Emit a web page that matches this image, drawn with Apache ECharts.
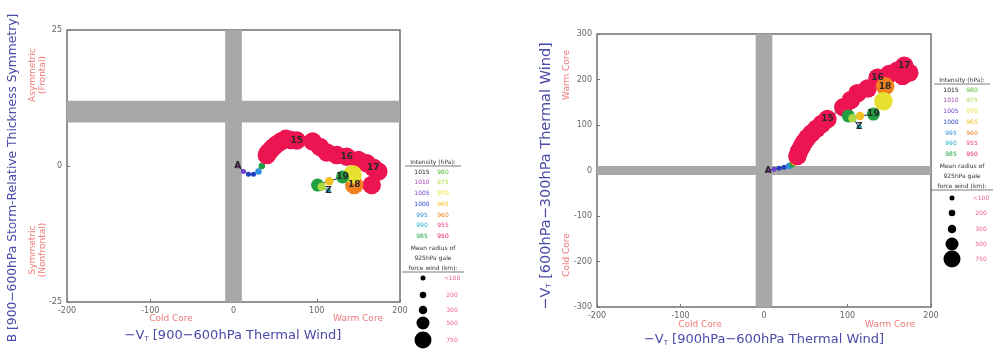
<!DOCTYPE html>
<html><head><meta charset="utf-8">
<script src="https://cdn.jsdelivr.net/npm/echarts@6/dist/echarts.min.js"></script>
<style>html,body{margin:0;padding:0;background:#fff}#c{width:1001px;height:353px}</style>
</head><body><div id="c"></div>
<script>
// ---- data ----
const vtl  = [5,12,18,24,30, 34,37,38,40,42, 45,48,52,57,63, 69,76,95,104,112, 124,136,150,160,168, 174,166,145,143,131, 115,101,106,114];
const bSym = [0,-1,-1.5,-1.5,-1, 0,1.5,2.5,2,2.5, 3,3.5,4,4.5,5, 4.8,4.7,4.5,3.5,2.5, 2,1.7,1.1,0.5,-0.3, -1,-3.5,-3.5,-1.5,-2, -2.8,-3.5,-3.8,-4.5];
const vtu  = [0,3,5,7,10, 14,20,26,32,42, 52,62,72,82,92, 102,113,139,155,170, 180,204,212,220,230, 215,208,185,152,124, 120,120,115,96];
const pres = [1010,1005,1000,1000,995, 985,965,960,950,950, 950,950,950,950,950, 950,950,950,950,950, 950,950,950,950,950, 950,950,960,970,985, 965,985,975,990];
const rad  = [100,100,100,100,200, 200,300,500,750,750, 750,750,750,750,750, 750,750,750,750,750, 750,750,750,750,750, 750,750,750,750,500, 300,500,300,100];
const marks = ['A','','','','', '','','','','', '','','','','', '','15','','','', '','16','','','17', '','','18','','19', '','','','Z'];

const xTicks = [-200,-100,0,100,200];
const bTicks = [-25,0,25];
const uTicks = [-300,-200,-100,0,100,200,300];
const coreBand = [-10,10];
const bBand = [8,12];

const pLevels = [1015,1010,1005,1000,995,990,985,980,975,970,965,960,955,950];
const pColors = ['#222222','#a040b0','#7040d0','#2040c0','#3090e0','#20b0c0','#20a040','#50b830','#b0d840','#e8e030','#f0c020','#f08020','#f04070','#ec1552'];
const rLabels = ['<100','200','300','500','750'];
const rValues = [100,200,300,500,750];
const rSizes  = [5,6.5,8.5,13,18.5];

function colorFor(p){ let best=0; for(let i=0;i<pLevels.length;i++){ if(Math.abs(pLevels[i]-p)<Math.abs(pLevels[best]-p)) best=i; } return pColors[best]; }
function sizeFor(r){ let best=0; for(let i=0;i<rValues.length;i++){ if(Math.abs(rValues[i]-r)<Math.abs(rValues[best]-r)) best=i; } return rSizes[best]; }

const FONT = 'DejaVu Sans';
const chart = echarts.init(document.getElementById('c'));

function axisCommon(min,max,interval,ticks){
  return { min, max, interval, axisLine:{show:false, onZero:false}, axisTick:{show:true, inside:true, length:3, lineStyle:{color:'#777'}},
    splitLine:{show:false}, axisLabel:{fontSize:8, color:'#666', fontFamily:FONT, margin:5,
      formatter: v => ticks.indexOf(v)>=0 ? String(v) : ''} };
}

function trackSeries(gi, yArr, yBand){
  const pts = vtl.map((x,i)=>[x,yArr[i]]);
  return [
    { type:'line', xAxisIndex:gi, yAxisIndex:gi, data:[], z:0, silent:true,
      markArea:{ silent:true, itemStyle:{color:'#a8a8a8', opacity:1},
        data:[ [{xAxis:coreBand[0]},{xAxis:coreBand[1]}], [{yAxis:yBand[0]},{yAxis:yBand[1]}] ] } },
    { type:'line', xAxisIndex:gi, yAxisIndex:gi, data:pts, z:2, symbol:'none', silent:true,
      lineStyle:{color:'#1a1a50', width:1} },
    { type:'scatter', xAxisIndex:gi, yAxisIndex:gi, data:pts, z:3, silent:true,
      symbolSize:(v,p)=>sizeFor(rad[p.dataIndex]),
      itemStyle:{ color:p=>colorFor(pres[p.dataIndex]), opacity:1 },
      label:{ show:true, position:'inside', formatter:p=>marks[p.dataIndex], color:'#2a2a2a', fontSize:9, fontWeight:'bold', fontFamily:FONT } }
  ];
}

const g = [];
function txt(x,y,text,opt){ g.push(Object.assign({type:'text', x, y, style:Object.assign({text, align:'center', verticalAlign:'middle', fontFamily:FONT}, opt.style||{}), rotation:opt.rotation||0})); }
function vtitle(x,y,text,size,color){ txt(x,y,text,{rotation:Math.PI/2, style:{fontSize:size, fill:color}}); }
function vtTitle(x,y,rest,size,rot){
  g.push({type:'text', x, y, rotation:rot||0, style:{text:'{a|−V}{s|T}{a| '+rest+'}', align:'center', verticalAlign:'middle',
    rich:{a:{fontSize:size, fill:'#4a4aa8', fontFamily:FONT}, s:{fontSize:7, fill:'#4a4aa8', fontFamily:FONT, padding:[6,0,0,0]}}}});
}

// left panel texts
vtTitle(233,336,'[900−600hPa Thermal Wind]',13);
txt(171,319,'Cold Core',{style:{fontSize:9, fill:'#f07878'}});
txt(358,319,'Warm Core',{style:{fontSize:9, fill:'#f07878'}});
vtitle(13,178,'B [900−600hPa Storm-Relative Thickness Symmetry]',12.3,'#4a4aa8');
vtitle(33,75,'Asymmetric',9,'#f07878');
vtitle(43,75,'(Frontal)',9,'#f07878');
vtitle(33,250,'Symmetric',9,'#f07878');
vtitle(43,250,'(Nonfrontal)',9,'#f07878');

// right panel texts
vtTitle(764,340,'[900hPa−600hPa Thermal Wind]',13);
txt(700,325,'Cold Core',{style:{fontSize:9, fill:'#f07878'}});
txt(890,325,'Warm Core',{style:{fontSize:9, fill:'#f07878'}});
vtTitle(546,176,'[600hPa−300hPa Thermal Wind]',14.5,Math.PI/2);
vtitle(567,75,'Warm Core',9,'#f07878');
vtitle(567,255,'Cold Core',9,'#f07878');

// legends
function legend(cx, y0, circ){
  txt(cx, y0, 'Intensity (hPa):', {style:{fontSize:6, fill:'#333'}});
  g.push({type:'line', shape:{x1:cx-28,y1:y0+4,x2:cx+28,y2:y0+4}, style:{stroke:'#444', lineWidth:0.7}});
  for(let i=0;i<7;i++){
    txt(cx-11, y0+10+i*10.75, String(pLevels[i]), {style:{fontSize:6, fill:pColors[i]}});
    txt(cx+10, y0+10+i*10.75, String(pLevels[i+7]), {style:{fontSize:6, fill:pColors[i+7]}});
  }
  txt(cx, y0+86, 'Mean radius of', {style:{fontSize:6, fill:'#333'}});
  txt(cx, y0+96, '925hPa gale', {style:{fontSize:6, fill:'#333'}});
  txt(cx, y0+106, 'force wind (km):', {style:{fontSize:6, fill:'#333'}});
  g.push({type:'line', shape:{x1:cx-31,y1:y0+110,x2:cx+31,y2:y0+110}, style:{stroke:'#444', lineWidth:0.7}});
  for(let i=0;i<5;i++){
    g.push({type:'circle', shape:{cx:cx-10, cy:y0+circ[i], r:Math.min(rSizes[i],17)/2}, style:{fill:'#000'}});
    txt(cx+19, y0+circ[i], rLabels[i], {style:{fontSize:6, fill:'#f06090'}});
  }
}
legend(433, 162, [116,133,148,161,178]);
legend(962, 80, [118,133,149,164,179]);

const option = {
  animation:false,
  backgroundColor:'#fff',
  grid:[
    {left:67, top:30, width:333, height:272, show:true, borderColor:'#707070', borderWidth:1.5, backgroundColor:'transparent'},
    {left:597, top:34, width:334, height:273, show:true, borderColor:'#707070', borderWidth:1.5, backgroundColor:'transparent'}
  ],
  xAxis:[
    Object.assign({type:'value', gridIndex:0}, axisCommon(-200,200,100,xTicks)),
    Object.assign({type:'value', gridIndex:1}, axisCommon(-200,200,100,xTicks))
  ],
  yAxis:[
    Object.assign({type:'value', gridIndex:0}, axisCommon(-25,25,25,bTicks)),
    Object.assign({type:'value', gridIndex:1}, axisCommon(-300,300,100,uTicks))
  ],
  series:[].concat(trackSeries(0,bSym,bBand), trackSeries(1,vtu,coreBand)),
  graphic:g
};
chart.setOption(option);
</script></body></html>
